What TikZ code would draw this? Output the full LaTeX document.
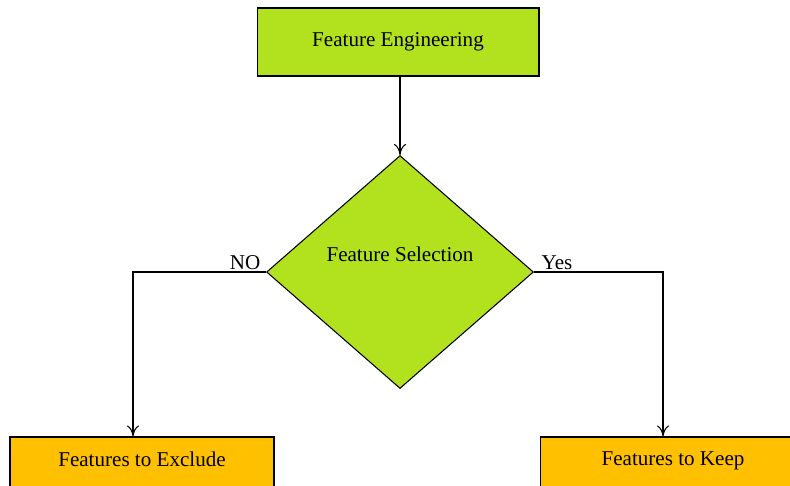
\documentclass[tikz,border=0pt]{standalone}
\usepackage{fontspec}
\setmainfont{Liberation Serif}
\usetikzlibrary{shapes.geometric,arrows.meta,positioning}
\definecolor{limegreen}{RGB}{178,226,30}
\definecolor{amber}{RGB}{255,192,0}
\tikzset{
  stepbox/.style={draw,line width=0.6pt,font=\fontsize{12}{14}\selectfont},
  flow/.style={line width=0.6pt,-{To[length=2.2mm,width=2.4mm]}},
  lbl/.style={font=\fontsize{12}{14}\selectfont,inner sep=1pt}
}

\begin{document}
\begin{tikzpicture}[x=0.02cm,y=-0.02cm]
	\clip (0,0) rectangle (790,485);
	\fill[white] (0,0) rectangle (790,485);
	\node[stepbox,fill=limegreen,minimum width=5.64cm,minimum height=1.36cm] at (398,42) (fe) {Feature Engineering};
	\node[stepbox,diamond,fill=limegreen,minimum width=5.34cm,minimum height=4.66cm,inner sep=0pt,
	  label={[lbl,yshift=0.36cm]center:Feature Selection}] at (400,272) (fs) {};
	\node[stepbox,fill=amber,minimum width=5.28cm,minimum height=1.0cm] at (142,462) (exc) {};
	\node[lbl] at (142,459) (exct) {Features to Exclude};
	\node[stepbox,fill=amber,minimum width=5.32cm,minimum height=1.0cm] at (673,462) (keep) {};
	\node[lbl] at (673,461) (keept) {Features to Keep};
	\draw[flow] (fe.south -| fs.north) -- (fs.north);
	\draw[flow] (fs.west) -| ([xshift=-0.18cm]exc.north);
	\draw[flow] (fs.east) -| ([xshift=-0.2cm]keep.north);
	\node[lbl] at (245,263) (no) {NO};
	\node[lbl] at (557,263) (yes) {Yes};
  \end{tikzpicture}
\end{document}
